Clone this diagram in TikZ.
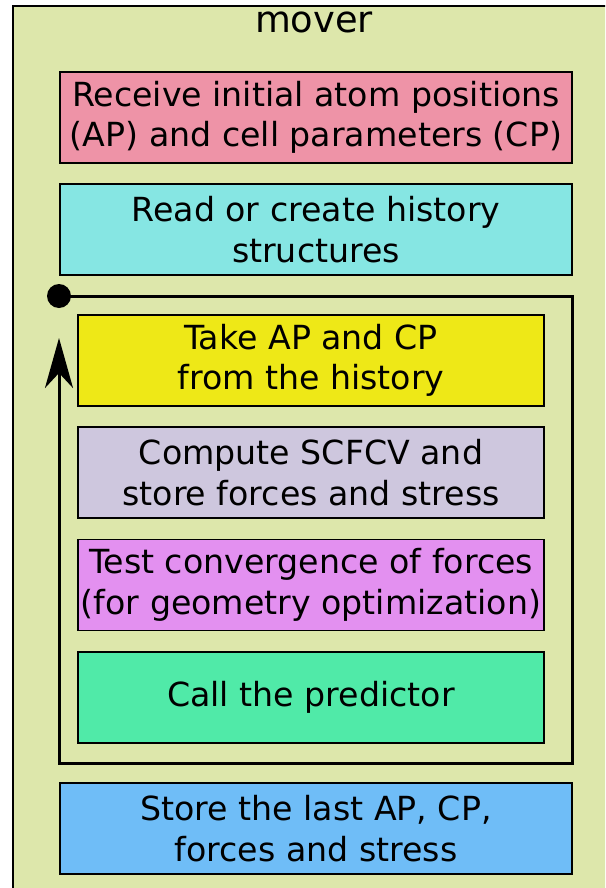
\documentclass[tikz,border=0pt]{standalone}
\usepackage{fontspec}
\setmainfont{DejaVu Sans}
\usetikzlibrary{arrows.meta}

\definecolor{moverbg}{HTML}{DDE7AB}
\definecolor{recvcol}{HTML}{EE93A7}
\definecolor{histcol}{HTML}{86E6E3}
\definecolor{takecol}{HTML}{EEE817}
\definecolor{scfcol}{HTML}{CEC7DE}
\definecolor{convcol}{HTML}{E390F0}
\definecolor{predcol}{HTML}{50EAA8}
\definecolor{storecol}{HTML}{6FBDF7}

\tikzset{
  stepbox/.style={draw, line width=1.8pt, align=center, inner sep=0pt,
    minimum height=91pt, font=\fontsize{33.2}{40.5}\selectfont},
  widebox/.style={stepbox, minimum width=512pt},
  narrowbox/.style={stepbox, minimum width=466pt},
}

\begin{document}
\begin{tikzpicture}[x=1pt, y=-1pt]%
      \useasboundingbox (0,0) rectangle (605,888);%
      \clip (0,0) rectangle (605,888);%
      \draw[fill=moverbg, line width=1.8pt] (13,6) rectangle (640,920);
      \node[font=\fontsize{36.8}{44}\selectfont, anchor=base, inner sep=0pt] (mover) at (314,33) {mover};
      % outer steps
      \node[widebox, fill=recvcol] (receive) at (316,117.5) {Receive initial atom positions\\(AP) and cell parameters (CP)};
      \node[widebox, fill=histcol] (history) at (316,229.5) {Read or create history\\structures};
      \node[widebox, fill=storecol] (store) at (316,828.5) {Store the last AP, CP,\\forces and stress};
      % steps inside the loop
      \foreach \name/\ypos/\col/\txt in {take/360.5/takecol/{Take AP and CP\\from the history},
          scfcv/472.5/scfcol/{Compute SCFCV and\\store forces and stress},
          conv/585/convcol/{Test convergence of forces\\(for geometry optimization)},
          pred/697.5/predcol/{Call the predictor}}{%
        \node[narrowbox, fill=\col] (\name) at (311,\ypos) {\txt};
      }
      % loop
      \node[circle, fill=black, inner sep=0pt, minimum size=24pt] (start) at (59,296) {};
      \coordinate (loop-ne) at (572,296);
      \coordinate (loop-se) at (572,763);
      \coordinate (loop-sw) at (59,763);
      \coordinate (loop-end) at (59,338);
      \draw[line width=3pt, -{Stealth[length=50pt, width=28pt, inset=15pt]}]
        (start.center) -- (loop-ne) -- (loop-se) -- (loop-sw) -- (loop-end);
    \end{tikzpicture}
\end{document}
